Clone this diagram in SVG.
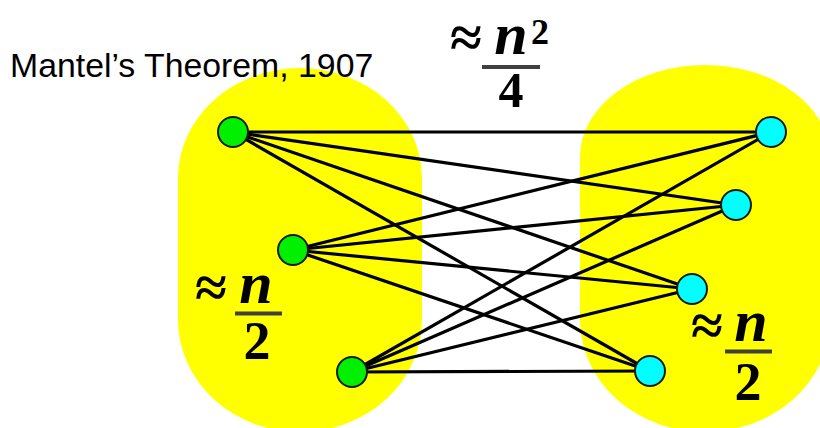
<svg xmlns="http://www.w3.org/2000/svg" width="820" height="428" viewBox="0 0 820 428">
<style>
.blob{fill:#ffff00}
.edge{stroke:#000;stroke-width:3.2;fill:none}
.ln{fill:#00f000;stroke:#1a1a1a;stroke-width:2}
.rn{fill:#00ffff;stroke:#1a1a1a;stroke-width:2}
.title{font-family:"Liberation Sans",Arial,sans-serif;font-size:33.8px;fill:#000}
.ap{font-family:"Liberation Serif","Times New Roman",serif;font-weight:bold;fill:#000;text-anchor:middle}
.n{font-family:"Liberation Serif","Times New Roman",serif;font-weight:bold;font-style:italic;fill:#000;text-anchor:middle}
.d{font-family:"Liberation Serif","Times New Roman",serif;font-weight:bold;fill:#000;text-anchor:middle}
.bar{fill:#404040}
</style>
<g id="left-part">
<path class="blob" d="M178,178 A122,110 0 0 1 422,178 L422,320 A122,112 0 0 1 178,320 Z"/>
</g>
<g id="right-part">
<path class="blob" d="M580,157 A125,92 0 0 1 830,157 L830,320 A125,112 0 0 1 580,320 Z"/>
</g>
<text class="title" x="10" y="77">Mantel’s Theorem, 1907</text>
<g id="edges">
<line class="edge" x1="233" y1="132" x2="771" y2="132"/>
<line class="edge" x1="233" y1="132" x2="736" y2="205"/>
<line class="edge" x1="233" y1="132" x2="692" y2="289"/>
<line class="edge" x1="233" y1="132" x2="650" y2="371"/>
<line class="edge" x1="293" y1="250" x2="771" y2="132"/>
<line class="edge" x1="293" y1="250" x2="736" y2="205"/>
<line class="edge" x1="293" y1="250" x2="692" y2="289"/>
<line class="edge" x1="293" y1="250" x2="650" y2="371"/>
<line class="edge" x1="352" y1="372" x2="771" y2="132"/>
<line class="edge" x1="352" y1="372" x2="736" y2="205"/>
<line class="edge" x1="352" y1="372" x2="692" y2="289"/>
<line class="edge" x1="352" y1="372" x2="650" y2="371"/>
</g>
<g id="L1"><circle class="ln" cx="233" cy="132" r="15"/></g>
<g id="L2"><circle class="ln" cx="293" cy="250" r="15"/></g>
<g id="L3"><circle class="ln" cx="352" cy="372" r="15"/></g>
<g id="R1"><circle class="rn" cx="771" cy="132" r="15"/></g>
<g id="R2"><circle class="rn" cx="736" cy="205" r="15"/></g>
<g id="R3"><circle class="rn" cx="692" cy="289" r="15"/></g>
<g id="R4"><circle class="rn" cx="650" cy="371" r="15"/></g>
<g id="label-top">
<text class="ap" x="466" y="57" font-size="58">≈</text>
<text class="n" x="511" y="54" font-size="60">n</text>
<text class="d" x="540" y="44" font-size="36">2</text>
<rect class="bar" x="482" y="65" width="58" height="4"/>
<text class="d" x="511" y="107" font-size="50">4</text>
</g>
<g id="label-left">
<text class="ap" x="211" y="307" font-size="58">≈</text>
<text class="n" x="256" y="303" font-size="60">n</text>
<rect class="bar" x="235" y="311.5" width="47" height="4"/>
<text class="d" x="257" y="359" font-size="54">2</text>
</g>
<g id="label-right">
<text class="ap" x="707" y="345" font-size="58">≈</text>
<text class="n" x="751" y="341" font-size="60">n</text>
<rect class="bar" x="725" y="349.5" width="47" height="4"/>
<text class="d" x="748" y="400" font-size="54">2</text>
</g>
</svg>
